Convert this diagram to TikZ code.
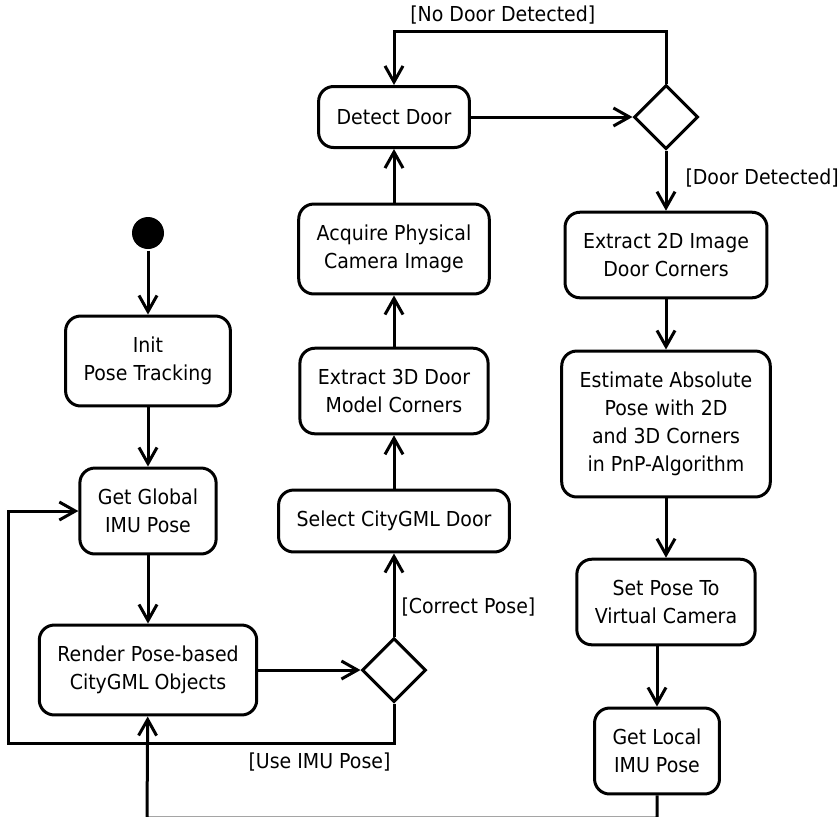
\documentclass[tikz,border=0pt]{standalone}
\usepackage{fontspec}
\setmainfont{DejaVu Sans}[FakeStretch=0.92]
\usetikzlibrary{positioning, arrows.meta, shapes.geometric}
\tikzset{
	->,
	>={Straight Barb[length=8pt,width=9pt]},
	every picture/.append style={line width=1.5pt},
	align=center,
	font=\fontsize{10.3pt}{14pt}\selectfont,
	action/.style={draw, rounded corners=7.5pt, inner xsep=9pt, inner ysep=10.5pt, minimum height=30.5pt},
	decision/.style={draw, diamond, minimum width=32pt, minimum height=32pt, inner sep=0pt},
	start/.style={circle, fill=black, minimum size=16pt, inner sep=0pt},
	guard/.style={inner sep=3pt}
}

\begin{document}
\begin{tikzpicture}[x=0.5pt,y=0.5pt]
	\useasboundingbox (0,0) rectangle (840,-816);
	% left column
	\node[start] (start) at (148,-233) {};
	\node[action, node distance=64pt, below of=start] (init) {Init\\Pose Tracking};
	\node[action, node distance=75pt, below of=init] (getglobal) {Get Global\\IMU Pose};
	\node[action, node distance=79.5pt, below of=getglobal] (render) {Render Pose-based\\CityGML Objects};
	% middle column
	\node[decision, node distance=123pt, right of=render] (dec1) {};
	\node[action, node distance=74.5pt, above of=dec1] (select) {Select CityGML Door};
	\node[action, node distance=65pt, above of=select] (extract3d) {Extract 3D Door\\Model Corners};
	\node[action, node distance=71pt, above of=extract3d] (acquire) {Acquire Physical\\Camera Image};
	\node[action, node distance=66pt, above of=acquire] (detect) {Detect Door};
	% right column
	\node[decision, node distance=136pt, right of=detect] (dec2) {};
	\node[action, node distance=69pt, below of=dec2] (extract2d) {Extract 2D Image\\Door Corners};
	\node[action, node distance=84.5pt, below of=extract2d] (estimate) {Estimate Absolute\\Pose with 2D\\and 3D Corners\\in PnP-Algorithm};
	\node[action, node distance=89pt, below of=estimate] (setpose) {Set Pose To\\Virtual Camera};
	\node[action, node distance=74.5pt, below of=setpose, xshift=-4.5pt] (getlocal) {Get Local\\IMU Pose};
	\coordinate (imuback) at (8,-743);
	\coordinate (localback) at (147,-818);
	\draw
	(start) edge (init)
	(init) edge (getglobal)
	(getglobal) edge (render)
	(render) edge (dec1)
	(dec1) edge node[guard, right, pos=0.35]{[Correct Pose]} (select)
	(select) edge (extract3d)
	(extract3d) edge (acquire)
	(acquire) edge (detect)
	(detect) edge (dec2)
	(dec2) edge node[guard, right, xshift=6pt, pos=0.45]{[Door Detected]} (extract2d)
	(extract2d) edge (estimate)
	(estimate) edge (setpose)
	;
	\draw (getlocal |- setpose.south) -- (getlocal);
	% loops back
	\draw (dec2.north) -- ++(0,26pt) -| node[guard, above, pos=0.3]{[No Door Detected]} (detect);
	\draw (dec1) |- node[anchor=north east, inner xsep=1pt, inner ysep=4pt]{[Use IMU Pose]} (imuback) |- (getglobal);
	\draw (getlocal) |- (localback) -- (render);
\end{tikzpicture}
\end{document}
